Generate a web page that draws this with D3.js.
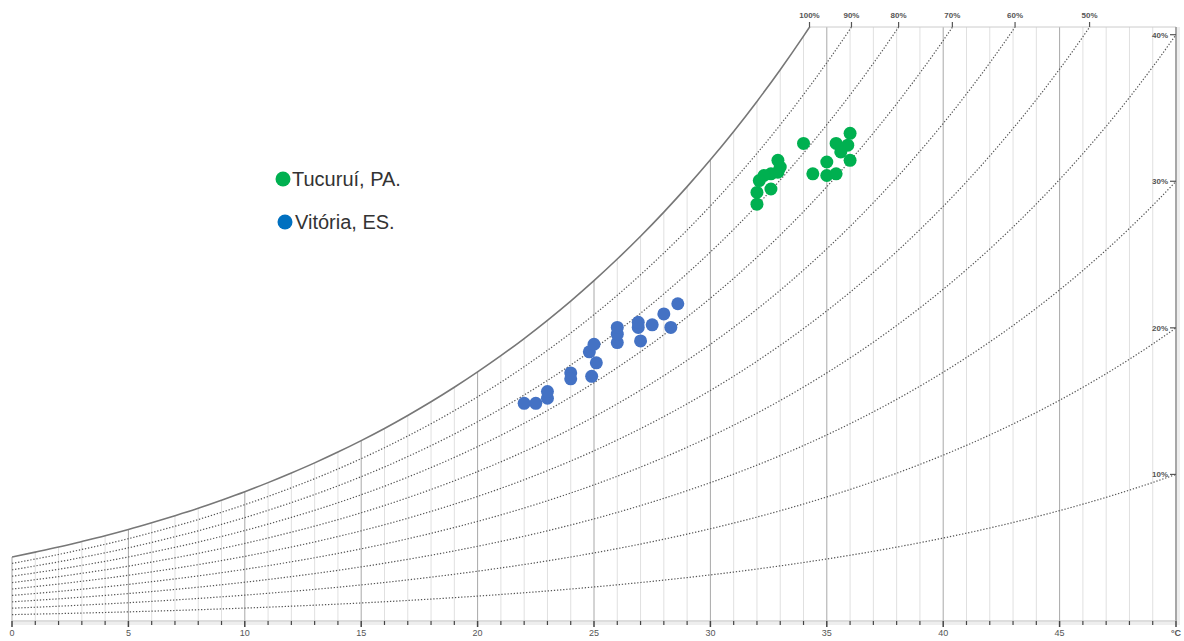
<!DOCTYPE html>
<html>
<head>
  <meta charset="utf-8">
  <title>Carta psicrométrica</title>
  <style>
    body { margin: 0; background: #fff; }
    svg { display: block; font-family: "Liberation Sans", Arial, sans-serif; }
    .grid { stroke: #e0e0e0; stroke-width: 1; }
    .grid.major { stroke: #a8a8a8; }
    .rh { fill: none; stroke: #555; stroke-width: 1.2; stroke-dasharray: 1.3,1.8; }
    .sat { fill: none; stroke: #777; stroke-width: 1.6; }
    .small { font-size: 8px; fill: #555; font-weight: bold; }
    .tick { font-size: 9px; fill: #555; }
    .legend { font-size: 20px; fill: #333; }
  </style>
</head>
<body>
  <svg id="chart"></svg>

  <script src="https://d3js.org/d3.v7.min.js"></script>
  <script>
    // temperature (°C) and saturation humidity ratio (g/kg)
    const temps = d3.range(0, 51);
    const satHumidity = [
      3.79, 4.08, 4.38, 4.71, 5.05, 5.42, 5.82, 6.24, 6.68, 7.16,
      7.66, 8.20, 8.77, 9.37, 10.01, 10.69, 11.41, 12.18, 12.99, 13.85,
      14.76, 15.72, 16.74, 17.82, 18.96, 20.17, 21.45, 22.80, 24.23, 25.74,
      27.33, 29.01, 30.79, 32.67, 34.66, 36.76, 38.97, 41.31, 43.78, 46.39,
      49.14, 52.05, 55.12, 58.37, 61.79, 65.41, 69.24, 73.28, 77.56, 82.08,
      86.86
    ];
    const rhLevels = [0.1, 0.2, 0.3, 0.4, 0.5, 0.6, 0.7, 0.8, 0.9];
    const topLabels = ['100%', '90%', '80%', '70%', '60%', '50%'];
    const topLevels = [1.0, 0.9, 0.8, 0.7, 0.6, 0.5];
    const sideLabels = ['10%', '20%', '30%', '40%'];
    const sideLevels = [0.1, 0.2, 0.3, 0.4];
    const xTickLabels = ['0', '5', '10', '15', '20', '25', '30', '35', '40', '45', '°C'];

    // measured points: dry bulb temperature (°C), humidity ratio (g/kg)
    const tucuruiTemp = [34.0, 35.4, 36.0, 35.9, 35.6, 36.0, 35.0, 34.4, 35.0, 35.4,
                         32.9, 33.0, 32.9, 32.6, 32.3, 32.1, 32.0, 32.6, 32.0];
    const tucuruiHum  = [28.3, 28.3, 28.9, 28.2, 27.8, 27.3, 27.2, 26.5, 26.4, 26.5,
                         27.3, 26.9, 26.6, 26.5, 26.4, 26.1, 25.4, 25.6, 24.7];
    const vitoriaTemp = [22.0, 22.5, 23.0, 23.0, 24.0, 24.0, 24.9, 25.1, 24.8, 25.0,
                         26.0, 26.0, 26.0, 27.0, 26.9, 26.9, 27.5, 28.3, 28.0, 28.6];
    const vitoriaHum  = [12.9, 12.9, 13.2, 13.6, 14.7, 14.35, 14.5, 15.3, 15.95, 16.4,
                         16.5, 17.0, 17.4, 16.6, 17.4, 17.7, 17.55, 17.4, 18.2, 18.8];

    const width = 1184, height = 641;
    const yMax = 35.2;

    const svg = d3.select('#chart').attr('width', width).attr('height', height);

    const x = d3.scaleLinear().domain([0, 50]).range([12, 1176]);
    const y = d3.scaleLinear().domain([0, yMax]).range([621, 27]);

    svg.append('defs').append('clipPath').attr('id', 'plot')
      .append('rect').attr('x', 12).attr('y', 27).attr('width', 1164).attr('height', 594);

    // shadows along the bottom and right edges
    svg.append('rect').attr('x', 12).attr('y', 622).attr('width', 1166).attr('height', 3)
      .attr('fill', '#eee');
    svg.append('rect').attr('x', 1177).attr('y', 27).attr('width', 3).attr('height', 598)
      .attr('fill', '#eee');

    // vertical grid lines, up to the saturation curve or the top border
    svg.selectAll('.grid')
      .data(temps)
      .enter()
      .append('line')
      .attr('class', d => d % 5 === 0 ? 'grid major' : 'grid')
      .attr('x1', d => x(d)).attr('x2', d => x(d))
      .attr('y1', y(0))
      .attr('y2', (d, i) => y(Math.min(satHumidity[i], yMax)));

    // where a curve meets the top border
    function topCross(level) {
      for (let i = 1; i < temps.length; i++) {
        const a = level * satHumidity[i - 1], b = level * satHumidity[i];
        if (a <= yMax && b >= yMax) return temps[i - 1] + (yMax - a) / (b - a);
      }
      return 50;
    }

    // top border
    svg.append('line')
      .attr('x1', x(topCross(1))).attr('x2', x(50))
      .attr('y1', y(yMax)).attr('y2', y(yMax))
      .attr('stroke', '#ccc');

    // right border
    svg.append('line')
      .attr('x1', x(50)).attr('x2', x(50))
      .attr('y1', y(0)).attr('y2', y(yMax))
      .attr('stroke', '#999').attr('stroke-width', 1.5);

    const plot = svg.append('g').attr('clip-path', 'url(#plot)');

    // relative humidity curves
    const line = d3.line().curve(d3.curveMonotoneX);
    plot.selectAll('.rh')
      .data(rhLevels)
      .enter()
      .append('path')
      .attr('class', 'rh')
      .attr('d', r => line(temps.map((t, i) => [x(t), y(r * satHumidity[i])])));

    // saturation curve
    plot.append('path')
      .attr('class', 'sat')
      .attr('d', line(temps.map((t, i) => [x(t), y(satHumidity[i])])));

    // bottom axis
    svg.append('line')
      .attr('x1', x(0)).attr('x2', x(50))
      .attr('y1', y(0)).attr('y2', y(0))
      .attr('stroke', '#bbb');
    svg.selectAll('.xtick')
      .data(temps)
      .enter()
      .append('line')
      .attr('x1', d => x(d)).attr('x2', d => x(d))
      .attr('y1', y(0)).attr('y2', d => d % 5 === 0 ? y(0) + 6 : y(0) + 4)
      .attr('stroke', '#444')
      .attr('stroke-width', d => d % 5 === 0 ? 1.5 : 1.2);
    svg.selectAll('.xlabel')
      .data(xTickLabels)
      .enter()
      .append('text')
      .attr('class', 'tick')
      .attr('x', (d, i) => x(i * 5))
      .attr('y', 636)
      .attr('text-anchor', 'middle')
      .style('font-weight', (d, i) => i === 10 ? 'bold' : null)
      .text(d => d);

    // labels for the curves that meet the top border
    topLevels.forEach((r, i) => {
      const tx = x(topCross(r));
      svg.append('line')
        .attr('x1', tx).attr('x2', tx).attr('y1', 22).attr('y2', 27)
        .attr('stroke', '#555').attr('stroke-width', 1.2);
      svg.append('text')
        .attr('class', 'small')
        .attr('x', tx).attr('y', 18)
        .attr('text-anchor', 'middle')
        .text(topLabels[i]);
    });

    // labels for the curves that meet the right border
    sideLevels.forEach((r, i) => {
      const ty = y(r * satHumidity[50]);
      svg.append('line')
        .attr('x1', 1170).attr('x2', 1176).attr('y1', ty).attr('y2', ty)
        .attr('stroke', '#555').attr('stroke-width', 1.2);
      svg.append('text')
        .attr('class', 'small')
        .attr('x', 1168).attr('y', ty + 3)
        .attr('text-anchor', 'end')
        .text(sideLabels[i]);
    });

    // measured points
    const tucurui = tucuruiTemp.map((t, i) => [t, tucuruiHum[i]]);
    const vitoria = vitoriaTemp.map((t, i) => [t, vitoriaHum[i]]);

    svg.selectAll('.tuc')
      .data(tucurui)
      .enter()
      .append('circle')
      .attr('cx', d => x(d[0])).attr('cy', d => y(d[1]))
      .attr('r', 6.5)
      .attr('fill', '#00b050');

    svg.selectAll('.vit')
      .data(vitoria)
      .enter()
      .append('circle')
      .attr('cx', d => x(d[0])).attr('cy', d => y(d[1]))
      .attr('r', 6.5)
      .attr('fill', '#4472c4');

    // legend
    const legend = [
      { name: 'Tucuruí, PA.', color: '#00b050', cx: 283, cy: 179, tx: 292 },
      { name: 'Vitória, ES.', color: '#0070c0', cx: 285, cy: 222, tx: 295 }
    ];
    legend.forEach(l => {
      svg.append('circle').attr('cx', l.cx).attr('cy', l.cy).attr('r', 7.5).attr('fill', l.color);
      svg.append('text').attr('class', 'legend')
        .attr('x', l.tx).attr('y', l.cy + 7)
        .text(l.name);
    });
  </script>
</body>
</html>
